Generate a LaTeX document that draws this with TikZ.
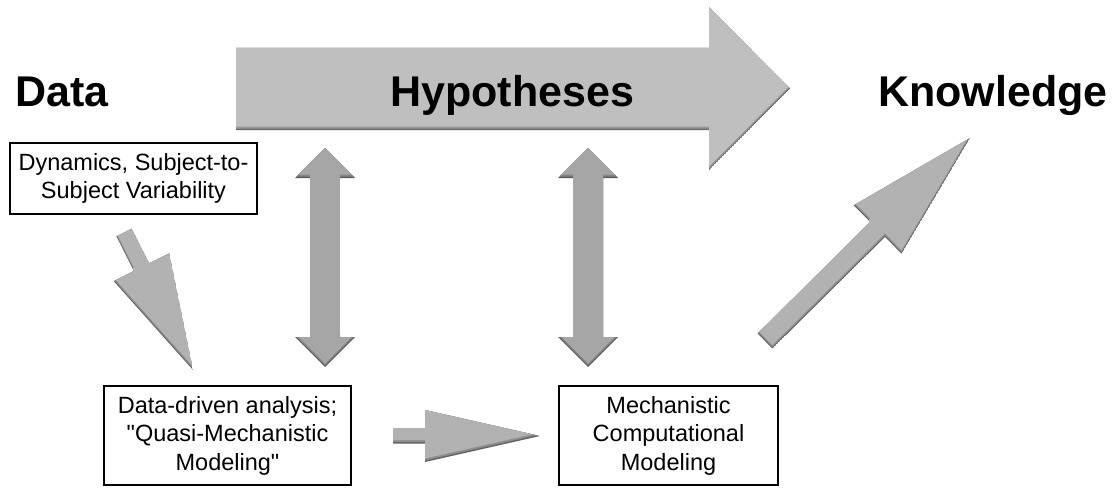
\documentclass[tikz,border=0pt]{standalone}
\usepackage{fontspec}
\setmainfont{Liberation Sans}
\usetikzlibrary{calc}
\definecolor{biggray}{gray}{0.75}
\definecolor{vgray}{gray}{0.65}
\definecolor{dgray}{gray}{0.70}
\newcommand\bevelfill[2]{%
  \begin{scope}
    \clip #1;
    \fill[#2!55!black] #1;
    \begin{scope}[transform canvas={yshift=1.5pt}]
      \fill[#2!80!black] #1;
    \end{scope}
    \begin{scope}[transform canvas={yshift=3.5pt}]
      \fill[#2] #1;
    \end{scope}
  \end{scope}}
% #1 tail, #2 tip, #3 shaft half width, #4 head half width, #5 head length, #6 colour
\newcommand\blockarrow[6]{%
  \coordinate (ba-base) at ($(#2)!#5!(#1)$);
  \bevelfill{($(#1)!#3!90:(#2)$) -- ($(ba-base)!#3!90:(#2)$) -- ($(ba-base)!#4!90:(#2)$) -- (#2) -- ($(ba-base)!#4!-90:(#2)$) -- ($(ba-base)!#3!-90:(#2)$) -- ($(#1)!#3!-90:(#2)$) -- cycle}{#6}}
\tikzset{
  title/.style={font=\fontsize{43}{50}\selectfont\bfseries, inner sep=0pt, anchor=base west},
  boxtext/.style={draw=black, line width=2pt, inner sep=0pt, align=center,
    font=\fontsize{23.5}{28.5}\selectfont},
}
\begin{document}
\begin{tikzpicture}[x=1pt,y=-1pt]
\useasboundingbox (0,0) rectangle (1115,487);
% big Hypotheses arrow
\bevelfill{(236,48) -- (709,48) -- (709,7) -- (790,88.5) -- (709,170) -- (709,130) -- (236,130) -- cycle}{biggray}
\node[title] (data) at (15,106) {Data};
\node[title] (hyp) at (390,106) {Hypotheses};
\node[title] (know) at (878,106) {Knowledge};
% boxes
\node[boxtext, minimum width=247pt, minimum height=71pt] (dyn) at (133.5,178.5)
  {Dynamics, Subject-to-\\Subject Variability};
\node[boxtext, minimum width=247pt, minimum height=99pt] (dda) at (227.5,435.5)
  {Data-driven analysis;\\\textquotedbl Quasi-Mechanistic\\Modeling\textquotedbl};
\node[boxtext, minimum width=219pt, minimum height=99pt] (mcm) at (668.5,435.5)
  {Mechanistic\\Computational\\Modeling};
% vertical double arrows
\bevelfill{(325,148) -- (355,178) -- (340,178) -- (340,337) -- (355,337) -- (325,367) -- (295,337) -- (310,337) -- (310,178) -- (295,178) -- cycle}{vgray}
\bevelfill{(588,148) -- (618,178) -- (603,178) -- (603,337) -- (618,337) -- (588,367) -- (558,337) -- (573,337) -- (573,178) -- (558,178) -- cycle}{vgray}
% diagonal / horizontal arrows
\coordinate (a1t) at (124,232.5);
\coordinate (a1h) at (193,370);
\blockarrow{a1t}{a1h}{8.5pt}{31pt}{115pt}{dgray}
\coordinate (a2t) at (393,436);
\coordinate (a2h) at (540,436);
\blockarrow{a2t}{a2h}{7.5pt}{26pt}{115pt}{dgray}
\coordinate (a3t) at (765,341);
\coordinate (a3h) at (970,138);
\blockarrow{a3t}{a3h}{10.5pt}{34pt}{130pt}{dgray}
\end{tikzpicture}
\end{document}
